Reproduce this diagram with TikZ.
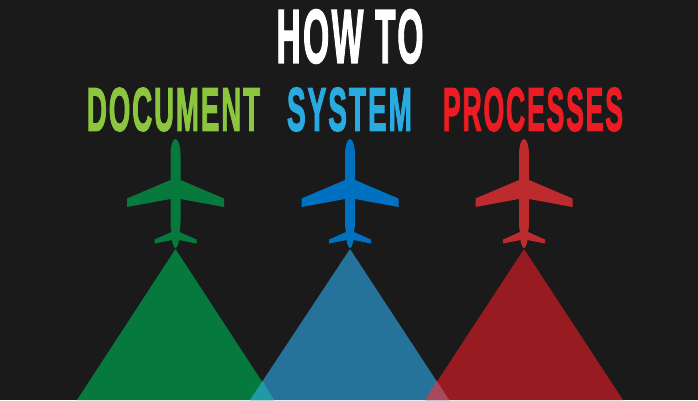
\documentclass[tikz,border=0pt]{standalone}
\usepackage{fontspec}
\setmainfont{Liberation Sans}
\newfontfamily\condf{Liberation Sans Bold}[LetterSpace=7,FakeBold=2.5]
\definecolor{bgc}{HTML}{1A1A1A}
\definecolor{txtg}{HTML}{8CC63F}
\definecolor{txtb}{HTML}{29ABE2}
\definecolor{txtr}{HTML}{ED1C24}
\definecolor{trig}{HTML}{067A3C}
\definecolor{trib}{HTML}{25739A}
\definecolor{trir}{HTML}{971B20}
\definecolor{mixgb}{HTML}{1F9BA8}
\definecolor{mixbr}{HTML}{A84A5E}
\definecolor{plb}{HTML}{0070C0}
\definecolor{plr}{HTML}{BE2B2E}
\newcommand{\cond}[3]{\resizebox{#1pt}{#2pt}{\condf #3}}
\tikzset{
  x=1pt,y=-1pt,
  title/.style={inner sep=0pt,anchor=center},
  plane/.pic={
    \fill[pic actions]
      (0,139) .. controls (3,139) and (5,147) .. (5,154)
      -- (5,180) -- (48.5,198.5) -- (48.5,207) -- (5,199)
      -- (5,222) .. controls (5,227) and (4.5,230) .. (4,232)
      -- (21,239.5) -- (21,243.5) -- (3.5,240)
      .. controls (3,244) and (1.5,248) .. (0,248)
      .. controls (-1.5,248) and (-3,244) .. (-3.5,240)
      -- (-21,243.5) -- (-21,239.5) -- (-4,232)
      .. controls (-4.5,230) and (-5,227) .. (-5,222)
      -- (-5,199) -- (-48.5,207) -- (-48.5,198.5) -- (-5,180)
      -- (-5,154) .. controls (-5,147) and (-3,139) .. (0,139) -- cycle;
  }
}
\begin{document}
\begin{tikzpicture}
\fill[bgc] (0,0) rectangle (698,400);
\useasboundingbox (0,0) rectangle (698,400);
\fill[trig] (175.5,249) -- (77,400) -- (274,400) -- cycle;
\fill[trir] (524,249) -- (425,400) -- (623,400) -- cycle;
\fill[trib] (350,249) -- (250,400) -- (449,400) -- cycle;
\fill[mixgb] (262.6,381) -- (250,400) -- (274,400) -- cycle;
\fill[mixbr] (436.7,381) -- (425,400) -- (449,400) -- cycle;
\pic[fill=trig] at (175.5,0) {plane};
\pic[fill=plb] at (350,0) {plane};
\pic[fill=plr] at (524,0) {plane};
\node[title,white] (how) at (350,36.5) {\cond{147}{53}{HOW TO}};
\node[title,txtg] (doc) at (173.5,109.5) {\cond{173}{43}{DOCUMENT}};
\node[title,txtb] (sys) at (349.5,109.5) {\cond{125}{43}{SYSTEM}};
\node[title,txtr] (pro) at (533,109.5) {\cond{180}{43}{PROCESSES}};
\end{tikzpicture}
\end{document}
